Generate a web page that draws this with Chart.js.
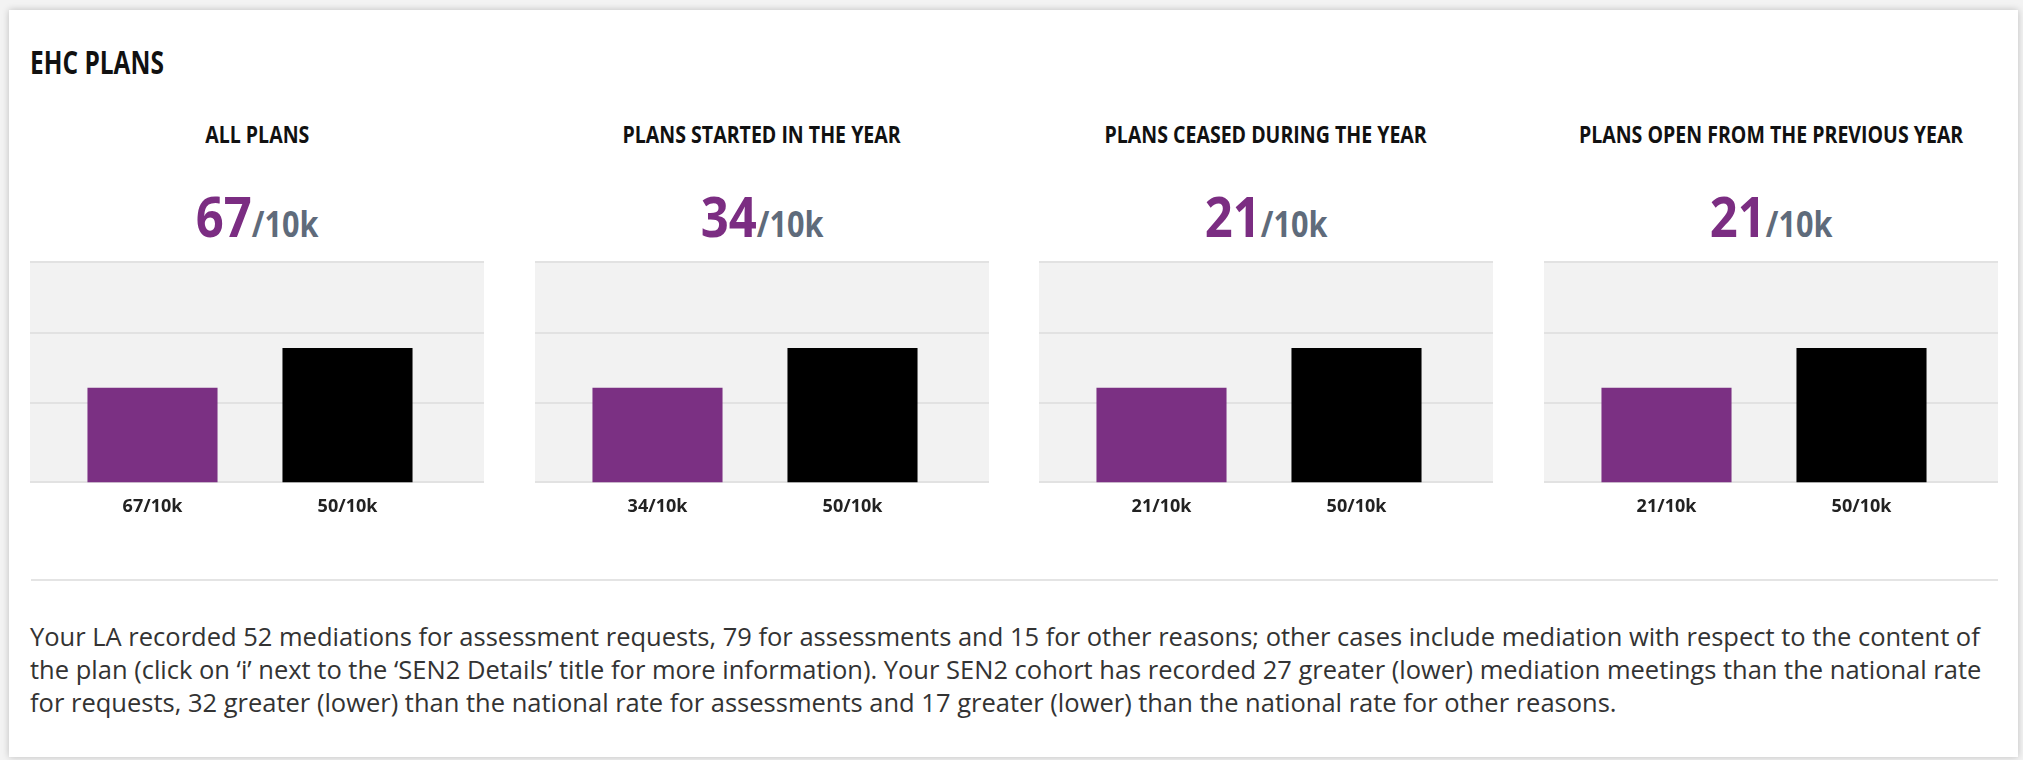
<!DOCTYPE html>
<html>
<head>
<meta charset="utf-8">
<script src="https://cdn.jsdelivr.net/npm/chart.js@4.4.0/dist/chart.umd.min.js"></script>
<style>
  html, body { margin: 0; padding: 0; }
  body { width: 2023px; height: 760px; background: #f3f3f3; position: relative; overflow: hidden;
         font-family: 'Open Sans', sans-serif; color: #222; }
  .card { position: absolute; left: 9px; top: 10px; width: 2009px; height: 747px; background: #fff;
          box-shadow: 0 0 7px rgba(0,0,0,0.22); }
  .title { position: absolute; left: 30px; top: 46px; font-size: 32px; line-height: 1; font-weight: 700;
           color: #111; white-space: nowrap; transform: scaleX(0.765); transform-origin: left center; }
  .head, .big { position: absolute; width: 454px; text-align: center; line-height: 1; white-space: nowrap; }
  .head span, .big span.wrap { display: inline-block; transform-origin: center; }
  .head { top: 123px; font-size: 23px; font-weight: 700; color: #111; }
  .head span { transform: scaleX(0.85); }
  .big { top: 187px; font-size: 56px; font-weight: 700; }
  .big span.wrap { transform: scaleX(0.875); }
  .big .num { color: #7b2d82; }
  .big .unit { color: #5f6b7b; font-size: 35px; }
  canvas.plot { position: absolute; top: 258px; }
  .rule { position: absolute; left: 31px; top: 579px; width: 1967px; height: 2px; background: #e4e4e4; }
  .text { position: absolute; left: 30px; top: 620px; font-size: 25.5px; line-height: 33px; color: #333;
          white-space: nowrap; }
</style>
</head>
<body>
<div class="card"></div>
<div class="title">EHC PLANS</div>
<div id="panels"></div>
<div class="rule"></div>
<div class="text">Your LA recorded 52 mediations for assessment requests, 79 for assessments and 15 for other reasons; other cases include mediation with respect to the content of<br>the plan (click on ‘i’ next to the ‘SEN2 Details’ title for more information). Your SEN2 cohort has recorded 27 greater (lower) mediation meetings than the national rate<br>for requests, 32 greater (lower) than the national rate for assessments and 17 greater (lower) than the national rate for other reasons.</div>

<script>
// panel headings and headline rates (per 10k)
const panelTitles   = ['ALL PLANS', 'PLANS STARTED IN THE YEAR', 'PLANS CEASED DURING THE YEAR', 'PLANS OPEN FROM THE PREVIOUS YEAR'];
const laRates       = [67, 34, 21, 21];
const nationalRates = [50, 50, 50, 50];

// bar heights as drawn (same in every panel)
const laBars        = [43, 43, 43, 43];
const nationalBars  = [61, 61, 61, 61];
const yTicks        = [0, 36, 68, 100];

const barColors = ['#7b3083', '#000000'];
const panelLeft0 = 30, panelStep = 504.67, panelWidth = 454;

// grey plot band + grid lines across the full panel width
const bandPlugin = {
  id: 'band',
  beforeDatasetsDraw(chart) {
    const { ctx, scales: { y } } = chart;
    ctx.save();
    ctx.fillStyle = '#f2f2f2';
    ctx.fillRect(0, y.top, chart.width, y.bottom - y.top);
    ctx.strokeStyle = '#e2e2e2';
    ctx.lineWidth = 2;
    yTicks.forEach(t => {
      const py = Math.round(y.getPixelForValue(t));
      ctx.beginPath();
      ctx.moveTo(0, py);
      ctx.lineTo(chart.width, py);
      ctx.stroke();
    });
    ctx.restore();
  }
};

const holder = document.getElementById('panels');

panelTitles.forEach((title, i) => {
  const left = Math.round(panelLeft0 + i * panelStep);

  const head = document.createElement('div');
  head.className = 'head';
  head.style.left = left + 'px';
  head.innerHTML = `<span>${title}</span>`;
  holder.appendChild(head);

  const big = document.createElement('div');
  big.className = 'big';
  big.style.left = left + 'px';
  big.innerHTML = `<span class="wrap"><span class="num">${laRates[i]}</span><span class="unit">/10k</span></span>`;
  holder.appendChild(big);

  const cv = document.createElement('canvas');
  cv.className = 'plot';
  cv.width = panelWidth;
  cv.height = 282;
  cv.style.left = left + 'px';
  holder.appendChild(cv);

  new Chart(cv.getContext('2d'), {
    type: 'bar',
    data: {
      labels: [`${laRates[i]}/10k`, `${nationalRates[i]}/10k`],
      datasets: [{
        data: [laBars[i], nationalBars[i]],
        backgroundColor: barColors,
        borderWidth: 0,
        barPercentage: 0.667,
        categoryPercentage: 1
      }]
    },
    options: {
      responsive: false,
      animation: false,
      devicePixelRatio: 1,
      layout: { padding: { left: 25, right: 39, top: 4, bottom: 8 } },
      plugins: { legend: { display: false }, tooltip: { enabled: false } },
      scales: {
        x: {
          grid: { display: false, drawTicks: false },
          border: { display: false },
          ticks: { color: '#222', padding: 14, font: { family: 'Open Sans', size: 18, weight: 'bold' } }
        },
        y: {
          display: false,
          min: yTicks[0],
          max: yTicks[yTicks.length - 1]
        }
      }
    },
    plugins: [bandPlugin]
  });
});
</script>
</body>
</html>
